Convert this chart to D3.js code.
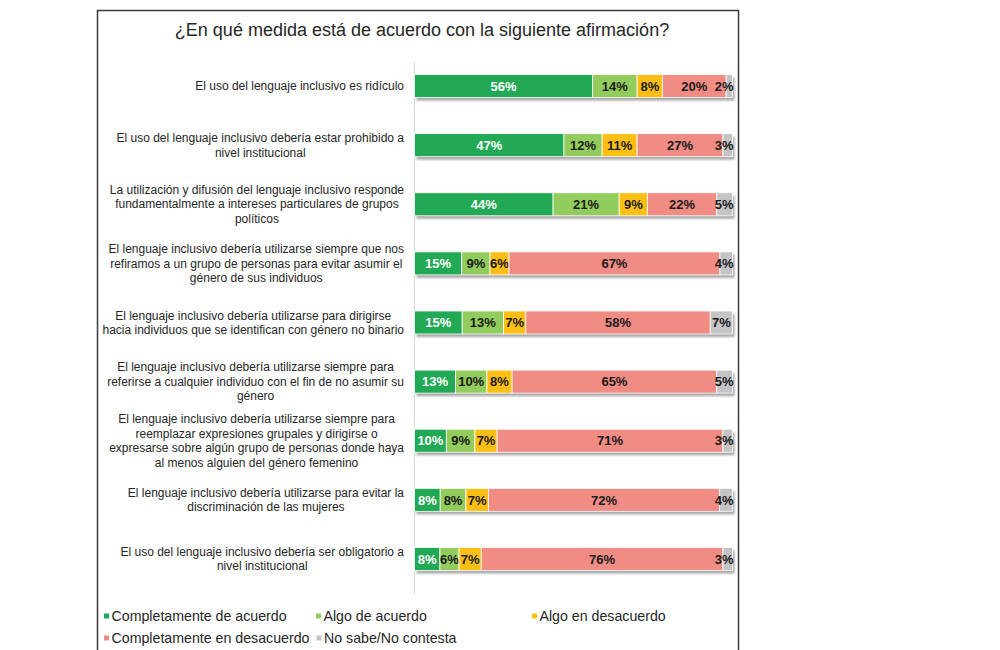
<!DOCTYPE html>
<meta charset="utf-8">
<style>
body { margin: 0; background: #fff; }
svg { font-family: "Liberation Sans", Arial, sans-serif; }
.cat { font-size: 12px; fill: #262626; }
.val { font-size: 13px; font-weight: bold; }
.leg { font-size: 14.2px; fill: #262626; }
</style>
<svg width="1000" height="650"></svg>
<script src="https://d3js.org/d3.v7.min.js"></script>
<script>

var title = "¿En qué medida está de acuerdo con la siguiente afirmación?";

var series = ["Completamente de acuerdo", "Algo de acuerdo", "Algo en desacuerdo",
              "Completamente en desacuerdo", "No sabe/No contesta"];

var colors = ["#21a955", "#92cc5c", "#fdbf14", "#f08c84", "#c4c4c4"];

// each statement, already split into the lines the chart shows
var categories = [
  ["El uso del lenguaje inclusivo es ridículo"],
  ["El uso del lenguaje inclusivo debería estar prohibido a", "nivel institucional"],
  ["La utilización y difusión del lenguaje inclusivo responde", "fundamentalmente a intereses particulares de grupos", "políticos"],
  ["El lenguaje inclusivo debería utilizarse siempre que nos", "refiramos a un grupo de personas para evitar asumir el", "género de sus individuos"],
  ["El lenguaje inclusivo debería utilizarse para dirigirse", "hacia individuos que se identifican con género no binario"],
  ["El lenguaje inclusivo debería utilizarse siempre para", "referirse a cualquier individuo con el fin de no asumir su", "género"],
  ["El lenguaje inclusivo debería utilizarse siempre para", "reemplazar expresiones grupales y dirigirse o", "expresarse sobre algún grupo de personas donde haya", "al menos alguien del género femenino"],
  ["El lenguaje inclusivo debería utilizarse para evitar la", "discriminación de las mujeres"],
  ["El uso del lenguaje inclusivo debería ser obligatorio a", "nivel institucional"]
];

var completamenteAcuerdo    = [56, 47, 44, 15, 15, 13, 10, 8, 8];
var algoAcuerdo             = [14, 12, 21, 9, 13, 10, 9, 8, 6];
var algoDesacuerdo          = [8, 11, 9, 6, 7, 8, 7, 7, 7];
var completamenteDesacuerdo = [20, 27, 22, 67, 58, 65, 71, 72, 76];
var noSabe                  = [2, 3, 5, 4, 7, 5, 3, 4, 3];

var rows = categories.map(function(c, i) {
  return {
    i: i,
    s0: completamenteAcuerdo[i],
    s1: algoAcuerdo[i],
    s2: algoDesacuerdo[i],
    s3: completamenteDesacuerdo[i],
    s4: noSabe[i]
  };
});

var svg = d3.select("svg");

// outer frame (runs off the bottom of the picture)
svg.append("rect")
    .attr("x", 97.5).attr("y", 10.5)
    .attr("width", 641).attr("height", 700)
    .attr("fill", "none")
    .attr("stroke", "#3a3a3a")
    .attr("stroke-width", 1.5);

svg.append("text")
    .attr("x", 422).attr("y", 36)
    .attr("text-anchor", "middle")
    .style("font-size", "18px")
    .style("fill", "#262626")
    .text(title);

var defs = svg.append("defs");
defs.append("filter").attr("id", "shadow")
    .attr("x", "-5%").attr("y", "-50%").attr("width", "110%").attr("height", "200%")
  .append("feGaussianBlur").attr("stdDeviation", 1.1);

var x = d3.scaleLinear().domain([0, 1]).range([414.5, 732.5]);
var y = d3.scalePoint().domain(d3.range(categories.length)).range([56.5, 588.5]).padding(0.5);
var barH = 23;

var keys = ["s0", "s1", "s2", "s3", "s4"];
var stack = d3.stack().keys(keys).offset(d3.stackOffsetExpand);
var layers = stack(rows);

// axis line
svg.append("line")
    .attr("x1", x(0)).attr("x2", x(0))
    .attr("y1", 62).attr("y2", 594)
    .attr("stroke", "#d9d9d9");

// shadows under the bars
svg.append("g").selectAll("rect")
  .data(rows)
  .join("rect")
    .attr("x", x(0) + 2)
    .attr("y", function(d) { return y(d.i) - barH / 2 + 3; })
    .attr("width", x(1) - x(0))
    .attr("height", barH)
    .attr("fill", "#8a8a8a")
    .attr("opacity", 0.75)
    .attr("filter", "url(#shadow)");

var layer = svg.append("g").selectAll("g")
  .data(layers)
  .join("g")
    .attr("fill", function(d, k) { return colors[k]; });

layer.selectAll("rect")
  .data(function(d) { return d; })
  .join("rect")
    .attr("x", function(d) { return x(d[0]); })
    .attr("y", function(d) { return y(d.data.i) - barH / 2; })
    .attr("width", function(d) { return x(d[1]) - x(d[0]); })
    .attr("height", barH)
    .attr("stroke", "#fff")
    .attr("stroke-width", 0.8);

// value labels
layer.each(function(L, k) {
  d3.select(this).selectAll("text")
    .data(L)
    .join("text")
      .attr("class", "val")
      .attr("text-anchor", "middle")
      .attr("dy", "0.36em")
      .attr("y", function(d) { return y(d.data.i); })
      .attr("fill", k === 0 ? "#fff" : "#1a1a1a")
      .text(function(d) { return d.data[L.key] + "%"; })
      .attr("x", function(d) {
        var w = this.getComputedTextLength();
        var cx = (x(d[0]) + x(d[1])) / 2;
        return Math.max(x(0) + w / 2, Math.min(cx, x(1) - w / 2 + 1));
      });
});

// category labels: block right aligned, lines centred inside it
var lineH = 14.4;
var cat = svg.append("g").selectAll("text")
  .data(categories)
  .join("text")
    .attr("class", "cat")
    .attr("text-anchor", "middle");

cat.each(function(lines, i) {
  var t = d3.select(this);
  t.selectAll("tspan")
    .data(lines)
    .join("tspan")
      .attr("y", function(l, j) { return y(i) + (j - (lines.length - 1) / 2) * lineH; })
      .attr("dy", "0.35em")
      .text(function(l) { return l; });
  var wMax = d3.max(t.selectAll("tspan").nodes(), function(n) { return n.getComputedTextLength(); });
  t.selectAll("tspan").attr("x", 404 - wMax / 2);
});

// legend: first row on fixed columns, second row flows after the previous entry
var leg = svg.append("g").selectAll("g")
  .data(series)
  .join("g");

leg.append("rect")
    .attr("x", 0).attr("y", -2.5)
    .attr("width", 5).attr("height", 5)
    .attr("fill", function(d, k) { return colors[k]; });

leg.append("text")
    .attr("class", "leg")
    .attr("x", 7.5)
    .attr("dy", "0.35em")
    .text(function(d) { return d; });

var cols = [104, 316, 532];
var nextX = 104;
leg.each(function(d, k) {
  var g = d3.select(this);
  var lx, ly;
  if (k < 3) { lx = cols[k]; ly = 616; }
  else { lx = nextX; ly = 638; }
  g.attr("transform", "translate(" + lx + "," + ly + ")");
  if (k >= 3) nextX = lx + 7.5 + g.select("text").node().getComputedTextLength() + 7;
});

</script>
